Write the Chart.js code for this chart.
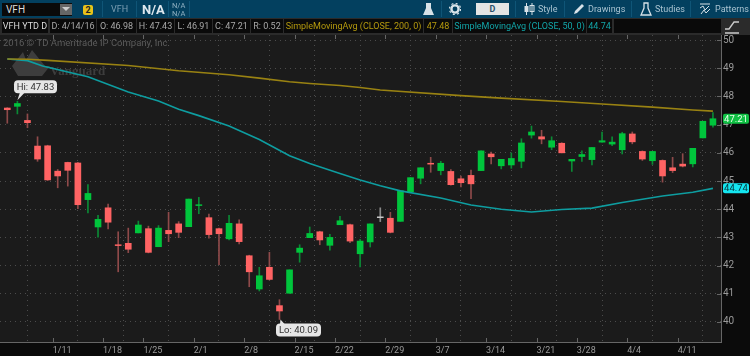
<!DOCTYPE html>
<html>
<head>
<meta charset="utf-8">
<script src="https://cdn.jsdelivr.net/npm/chart.js@4"></script>
<style>
html, body { margin: 0; padding: 0; background: #0b0b0b; }
#tela { position: relative; width: 750px; height: 356px; overflow: hidden; font-family: Roboto, sans-serif; font-size: 9px; color: #a8a8a8; }
#grafico { position: absolute; left: 0; top: 0; }
#topo { position: absolute; left: 0; top: 0; width: 750px; height: 18px; background: #03405f; }
#linha { position: absolute; left: 0; top: 18px; width: 750px; height: 17px; background: #2b2b2b; }
.abs { position: absolute; white-space: nowrap; }
.cel { position: absolute; top: 1px; height: 14px; line-height: 14px; background: #0a0a0a; text-align: center; white-space: nowrap; overflow: hidden; }
.sep { position: absolute; top: 1px; width: 1px; height: 16px; background: #0f5577; }
.menu { color: #a9c3d1; line-height: 18px; top: 0; font-size: 9px; }
</style>
</head>
<body>
<div id="tela">
    <canvas id="grafico" width="750" height="356"></canvas>

    <div id="topo">
        <div class="abs" style="left:2px;top:3px;width:70px;height:13px;background:#0a0a0a;color:#ddd;line-height:13px;text-indent:4px;font-size:10px">VFH</div>
        <div class="abs" style="left:60px;top:4px;width:12px;height:11px;background:#666"></div>
        <svg class="abs" style="left:62px;top:7px" width="8" height="5"><path d="M0 0H8L4 4Z" fill="#ccc"/></svg>
        <div class="abs" style="left:83px;top:5px;width:10px;height:10px;background:#e8c21a;color:#222;font-weight:700;line-height:10px;text-align:center;border-radius:2px">2</div>
        <div class="sep" style="left:102px"></div>
        <div class="abs menu" style="left:111px;color:#7d9fb3">VFH</div>
        <div class="sep" style="left:136px"></div>
        <div class="abs" style="left:142px;top:0;color:#dfe8ee;font-weight:700;font-size:13px;line-height:20px">N/A</div>
        <div class="sep" style="left:168px"></div>
        <div class="abs" style="left:172px;top:2px;color:#8fb0c2;font-size:7.5px;line-height:8px">N/A<br>N/A</div>
        <div class="sep" style="left:189px"></div>

        <svg class="abs" style="left:422px;top:2px" width="13" height="14"><path d="M4 1H9V6L12 13H1L4 6Z" fill="#d8e2e8"/></svg>
        <div class="sep" style="left:441px"></div>
        <svg class="abs" style="left:449px;top:3px" width="12" height="12"><circle cx="6" cy="6" r="3.6" fill="none" stroke="#d8e2e8" stroke-width="2.4"/><circle cx="6" cy="6" r="5.6" fill="none" stroke="#d8e2e8" stroke-width="1.2" stroke-dasharray="2 2.4"/></svg>
        <div class="abs" style="left:476px;top:3px;width:33px;height:12px;background:#e4e4e4;color:#29506a;font-weight:700;line-height:12px;text-align:center">D</div>
        <div class="sep" style="left:515px"></div>
        <svg class="abs" style="left:524px;top:3px" width="11" height="12"><path d="M2.5 0V12M8 0V12" stroke="#d8e2e8"/><rect x="0.5" y="3" width="4" height="6" fill="#d8e2e8"/><rect x="6" y="2.5" width="4" height="6" fill="none" stroke="#d8e2e8"/></svg>
        <div class="abs menu" style="left:538px">Style</div>
        <div class="sep" style="left:564px"></div>
        <svg class="abs" style="left:573px;top:3px" width="12" height="12"><path d="M1 11L2 8L9 1L11 3L4 10Z" fill="#d8e2e8"/></svg>
        <div class="abs menu" style="left:588px">Drawings</div>
        <div class="sep" style="left:631px"></div>
        <svg class="abs" style="left:640px;top:2px" width="12" height="14"><path d="M4 1H8V6L11 13H1L4 6Z" fill="none" stroke="#d8e2e8" stroke-width="1.3"/></svg>
        <div class="abs menu" style="left:655px">Studies</div>
        <div class="sep" style="left:690px"></div>
        <svg class="abs" style="left:699px;top:3px" width="12" height="12"><path d="M1 1H11M1 5L4 3L6 7L10 3M2 11L5 7L7 10L11 6" fill="none" stroke="#d8e2e8"/></svg>
        <div class="abs menu" style="left:715px">Patterns</div>
    </div>

    <div id="linha">
        <div class="cel" style="left:2px;width:46px;color:#ddd">VFH YTD D</div>
        <div class="cel" style="left:50px;width:46px">D: 4/14/16</div>
        <div class="cel" style="left:97px;width:39px">O: 46.98</div>
        <div class="cel" style="left:137px;width:37px">H: 47.43</div>
        <div class="cel" style="left:175px;width:37px">L: 46.91</div>
        <div class="cel" style="left:213px;width:37px">C: 47.21</div>
        <div class="cel" style="left:251px;width:32px">R: 0.52</div>
        <div class="cel" style="left:284px;width:139px;color:#b59a0e">SimpleMovingAvg (CLOSE, 200, 0)</div>
        <div class="cel" style="left:424px;width:28px;color:#b59a0e">47.48</div>
        <div class="cel" style="left:453px;width:133px;color:#12a5a8">SimpleMovingAvg (CLOSE, 50, 0)</div>
        <div class="cel" style="left:587px;width:25px;color:#12a5a8">44.74</div>
        <div class="cel" style="left:614px;width:107px"></div>
    </div>

    <svg class="abs" style="left:725px;top:20px" width="14" height="14"><path d="M0 9L4 9L9 2H14" fill="none" stroke="#ccc" stroke-width="1.3"/><path d="M0 13H14" stroke="#ccc" stroke-width="1.5"/></svg>
</div>

<script>
const opens = [47.59, 47.65, 47.15, 46.24, 46.25, 45.35, 45.66, 45.64, 44.34, 43.37, 44.05, 42.74, 42.79, 43.16, 43.31, 42.67, 43.25, 43.48, 43.38, 44.13, 43.70, 43.31, 42.95, 43.48, 42.35, 41.17, 41.94, 40.58, 41.02, 42.47, 42.99, 43.20, 42.72, 43.45, 43.45, 42.42, 42.84, 43.70, 43.68, 43.57, 44.62, 45.10, 45.63, 45.37, 45.34, 45.08, 45.20, 45.37, 45.96, 45.54, 45.57, 45.70, 46.63, 46.57, 46.20, 46.34, 45.71, 45.87, 45.76, 46.38, 46.31, 46.11, 46.67, 46.05, 45.72, 45.73, 45.47, 45.60, 45.61, 46.53, 46.98]
const highs = [47.60, 47.83, 47.38, 46.57, 46.27, 45.41, 45.67, 45.66, 44.87, 43.78, 44.18, 43.20, 43.33, 43.58, 43.40, 43.42, 43.89, 43.56, 44.36, 44.42, 43.83, 43.33, 43.78, 43.62, 42.37, 41.94, 42.47, 40.79, 41.85, 42.74, 43.37, 43.22, 43.11, 43.75, 43.47, 42.93, 43.48, 44.05, 43.89, 44.65, 45.12, 45.47, 45.84, 45.70, 45.41, 45.18, 45.39, 46.07, 46.03, 45.77, 46.00, 46.50, 46.95, 46.80, 46.57, 46.36, 45.77, 46.07, 46.19, 46.74, 46.57, 46.73, 46.74, 46.07, 46.05, 45.75, 45.84, 45.97, 46.16, 47.12, 47.43]
const lows = [47.05, 47.38, 46.89, 45.70, 45.02, 44.76, 44.82, 44.02, 43.87, 43.01, 43.30, 41.78, 42.46, 43.16, 42.45, 42.67, 42.85, 42.99, 43.38, 43.84, 42.97, 42.03, 42.91, 42.77, 41.25, 41.10, 41.49, 40.09, 41.02, 42.12, 42.99, 42.74, 42.55, 43.45, 42.81, 41.95, 42.66, 43.56, 43.16, 43.57, 44.62, 44.90, 45.31, 45.22, 44.85, 44.79, 44.37, 45.37, 45.61, 45.43, 45.45, 45.47, 46.52, 46.32, 46.11, 46.00, 45.34, 45.70, 45.57, 46.38, 46.25, 45.96, 46.32, 45.73, 45.59, 44.96, 45.30, 45.50, 45.50, 46.53, 46.91]
const closes = [47.53, 47.75, 47.07, 45.78, 45.04, 45.18, 45.38, 44.16, 44.56, 43.64, 43.54, 42.71, 42.58, 43.44, 42.47, 43.33, 43.13, 43.18, 44.36, 44.16, 43.10, 43.13, 43.50, 42.85, 41.78, 41.64, 41.51, 40.39, 41.85, 42.62, 43.14, 42.91, 43.00, 43.59, 42.87, 42.87, 43.48, 43.73, 43.18, 44.65, 45.12, 45.47, 45.60, 45.63, 44.87, 44.94, 44.90, 46.07, 45.86, 45.77, 45.80, 46.35, 46.74, 46.49, 46.43, 46.00, 45.77, 45.94, 46.19, 46.43, 46.38, 46.68, 46.39, 45.78, 46.05, 45.18, 45.37, 45.53, 46.16, 47.12, 47.21]

// medias moveis lidas em alguns pontos da curva (indice do candle -> valor)
const sma200Pos = [0, 2, 4, 12, 17, 22, 25, 28, 30, 33, 35, 37, 45, 49, 55, 59, 64, 68, 70]
const sma200Val = [49.33, 49.32, 49.28, 49.10, 48.91, 48.77, 48.65, 48.52, 48.46, 48.39, 48.32, 48.23, 48.03, 47.94, 47.82, 47.73, 47.62, 47.52, 47.48]
const sma50Pos = [0, 2, 3.5, 8, 12, 15, 17, 19, 22, 25, 28, 30, 33, 35, 37, 39, 43, 46, 49, 52, 55, 58, 61, 65, 68, 70]
const sma50Val = [49.33, 49.27, 49.08, 48.70, 48.16, 47.84, 47.55, 47.32, 46.95, 46.47, 45.90, 45.62, 45.27, 45.04, 44.83, 44.65, 44.40, 44.15, 44.00, 43.90, 43.99, 44.04, 44.24, 44.47, 44.60, 44.74]

const tickPos = [5, 10, 14, 19, 24, 29, 33, 38, 43, 48, 53, 57, 62, 67]
const tickLabels = ['1/11', '1/18', '1/25', '2/1', '2/8', '2/15', '2/22', '2/29', '3/7', '3/14', '3/21', '3/28', '4/4', '4/11']

const verde = '#00c53c'
const vermelho = '#ff6363'

const corCorpo = opens.map((o, i) => i == 37 ? '#c8c8c8' : closes[i] > o ? verde : vermelho)
const corPavio = opens.map((o, i) => i == 37 ? '#8a8a8a' : closes[i] > o ? '#0b8a35' : '#8f4a4a')

function balao(ctx, texto, x, y, w, h, pontaX, pontaY, baseX) {
    ctx.fillStyle = '#e6e6e6'
    ctx.beginPath()
    ctx.roundRect(x, y, w, h, 4)
    ctx.fill()
    ctx.beginPath()
    ctx.moveTo(pontaX, pontaY)
    ctx.lineTo(baseX, pontaY < y ? y + 1 : y + h - 1)
    ctx.lineTo(baseX + 5, pontaY < y ? y + 1 : y + h - 1)
    ctx.closePath()
    ctx.fill()
    ctx.fillStyle = '#333'
    ctx.font = '9.5px Roboto'
    ctx.textAlign = 'center'
    ctx.textBaseline = 'middle'
    ctx.fillText(texto, x + w / 2, y + h / 2 + 0.5)
}

function etiqueta(ctx, texto, y, fundo, corTexto) {
    ctx.fillStyle = fundo
    ctx.beginPath()
    ctx.roundRect(723, y - 5, 26, 10, 2)
    ctx.fill()
    ctx.fillStyle = corTexto
    ctx.font = '9.5px Roboto'
    ctx.textAlign = 'center'
    ctx.textBaseline = 'middle'
    ctx.fillText(texto, 736, y + 0.5)
}

const fundoPlugin = {
    id: 'fundoPlugin',
    beforeDraw(chart) {
        const { ctx, chartArea: a } = chart
        ctx.save()
        ctx.fillStyle = '#0b0b0b'
        ctx.fillRect(0, 0, chart.width, chart.height)
        ctx.fillStyle = '#1b1b1b'
        ctx.fillRect(a.left, a.top, a.right - a.left, a.bottom - a.top)
        ctx.restore()
    },
    beforeDatasetsDraw(chart) {
        const { ctx, chartArea: a, scales } = chart
        ctx.save()
        // tracinhos dos eixos
        ctx.strokeStyle = '#666'
        ctx.beginPath()
        scales.x.ticks.forEach(t => {
            const x = Math.round(scales.x.getPixelForValue(t.value)) + 0.5
            ctx.moveTo(x, a.top)
            ctx.lineTo(x, a.top + 4)
            ctx.moveTo(x, a.bottom - 4)
            ctx.lineTo(x, a.bottom)
        })
        scales.y.ticks.forEach(t => {
            const y = Math.round(scales.y.getPixelForValue(t.value)) + 0.5
            ctx.moveTo(a.right - 4, y)
            ctx.lineTo(a.right, y)
        })
        ctx.stroke()

        // copyright e marca d'agua
        ctx.fillStyle = '#5c5c5c'
        ctx.font = '9.5px Roboto'
        ctx.textAlign = 'left'
        ctx.textBaseline = 'middle'
        ctx.fillText('2016 © TD Ameritrade IP Company, Inc.', 3, 44)
        ctx.fillStyle = '#3d3d3d'
        ctx.font = 'bold 13px "Liberation Serif"'
        ctx.fillText('Vanguard', 50, 72)
        ctx.beginPath()
        ctx.moveTo(12, 66)
        ctx.lineTo(23, 52)
        ctx.lineTo(26, 60)
        ctx.lineTo(32, 50)
        ctx.lineTo(45, 66)
        ctx.lineTo(50, 66)
        ctx.lineTo(42, 76)
        ctx.lineTo(18, 76)
        ctx.closePath()
        ctx.fill()
        ctx.restore()
    },
    afterDraw(chart) {
        const { ctx, scales } = chart
        ctx.save()
        const yHi = scales.y.getPixelForValue(Math.max(...highs))
        const yLo = scales.y.getPixelForValue(Math.min(...lows))
        balao(ctx, 'Hi: 47.83', 14, yHi - 21, 43, 13, scales.x.getPixelForValue(1), yHi - 1, 20)
        balao(ctx, 'Lo: 40.09', 276, yLo + 4, 45, 13, scales.x.getPixelForValue(27) + 1, yLo, 280)
        etiqueta(ctx, '47.21', scales.y.getPixelForValue(closes[70]), '#10c044', '#e8ffe8')
        etiqueta(ctx, '44.74', scales.y.getPixelForValue(sma50Val[sma50Val.length - 1]), '#14e6f0', '#063238')
        ctx.restore()
    }
}

const myChartVfh = new Chart(document.getElementById('grafico'), {
    data: {
        datasets: [
            {
                type: 'bar',
                grouped: false,
                order: 3,
                barThickness: 1,
                data: lows.map((l, i) => ({ x: i, y: [l, highs[i]] })),
                backgroundColor: corPavio,
            },
            {
                type: 'bar',
                grouped: false,
                order: 2,
                barThickness: 6,
                data: opens.map((o, i) => ({ x: i, y: [o, closes[i]] })),
                backgroundColor: corCorpo,
            },
            {
                type: 'line',
                order: 1,
                data: sma200Pos.map((p, i) => ({ x: p, y: sma200Val[i] })),
                borderColor: '#998212',
                borderWidth: 1.6,
                pointRadius: 0,
            },
            {
                type: 'line',
                order: 1,
                data: sma50Pos.map((p, i) => ({ x: p, y: sma50Val[i] })),
                borderColor: '#0e9da0',
                borderWidth: 1.6,
                pointRadius: 0,
            },
        ]
    },
    options: {
        responsive: false,
        animation: false,
        layout: { padding: { top: 35 } },
        plugins: {
            legend: { display: false },
            tooltip: { enabled: false },
        },
        scales: {
            x: {
                type: 'linear',
                min: -0.724,
                max: 70.8,
                offset: false,
                afterBuildTicks: scale => {
                    scale.ticks = tickPos.map(p => ({ value: p - 0.5 }))
                },
                afterFit: scale => { scale.height = 14 },
                grid: { color: '#4c4c4c', drawTicks: false },
                border: { color: '#666', dash: [1, 4] },
                ticks: {
                    autoSkip: false,
                    maxRotation: 0,
                    align: 'start',
                    padding: 3,
                    color: '#9a9a9a',
                    font: { family: 'Roboto', size: 9 },
                    callback: (value, i) => tickLabels[i],
                },
            },
            y: {
                position: 'right',
                min: 39.29,
                max: 50.18,
                afterFit: scale => { scale.width = 29 },
                afterBuildTicks: scale => {
                    scale.ticks = [40, 41, 42, 43, 44, 45, 46, 47, 48, 49, 50].map(v => ({ value: v }))
                },
                grid: { color: '#4c4c4c', drawTicks: false },
                border: { color: '#666', dash: [1, 4] },
                ticks: {
                    padding: 2,
                    color: '#9a9a9a',
                    font: { family: 'Roboto', size: 10 },
                },
            },
        },
    },
    plugins: [fundoPlugin],
})
</script>
</body>
</html>
